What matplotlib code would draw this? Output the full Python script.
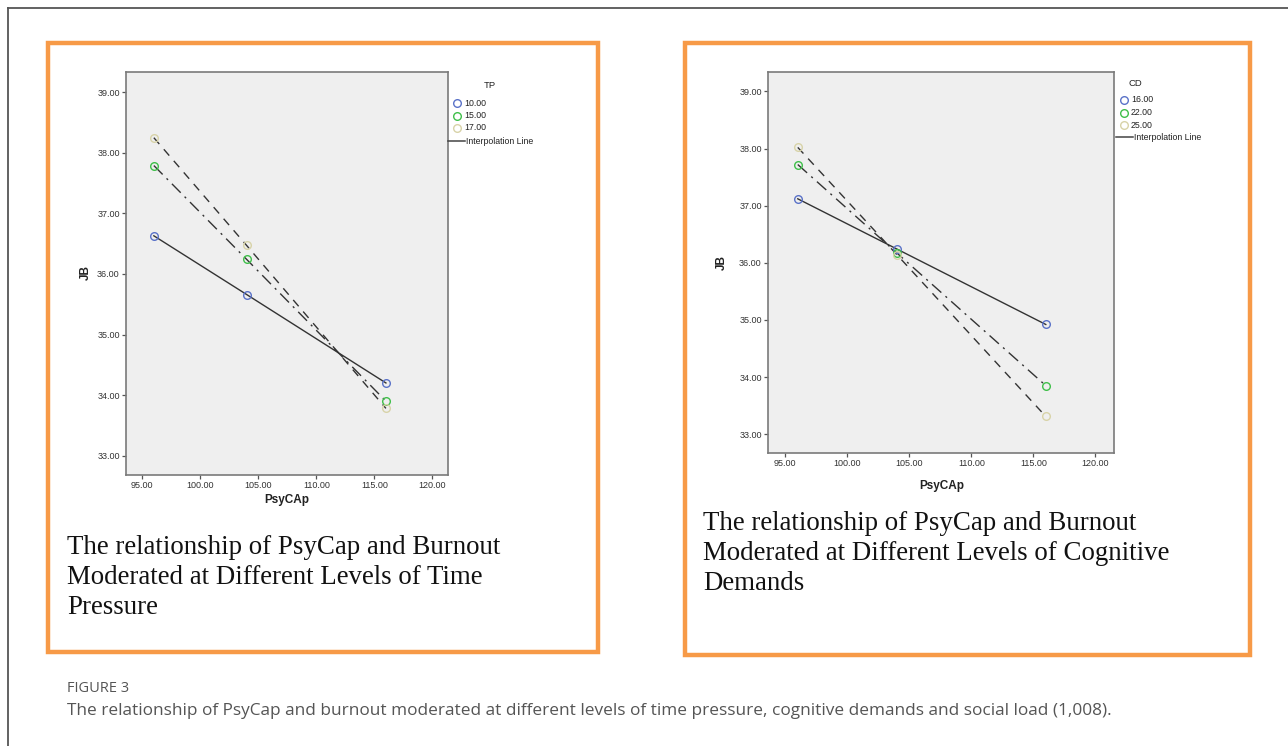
import matplotlib
matplotlib.use("Agg")
import matplotlib.pyplot as plt
from matplotlib.patches import Rectangle
from matplotlib.lines import Line2D

W, H = 1288, 746

# ---------------- data ----------------
psycap = [96, 104, 116]

tp_levels = ["10.00", "15.00", "17.00"]
tp_10 = [36.63, 35.66, 34.20]
tp_15 = [37.79, 36.24, 33.90]
tp_17 = [38.25, 36.47, 33.78]

cd_levels = ["16.00", "22.00", "25.00"]
cd_16 = [37.12, 36.24, 34.92]
cd_22 = [37.72, 36.17, 33.85]
cd_25 = [38.02, 36.14, 33.31]

x_ticks = [95, 100, 105, 110, 115, 120]
y_ticks = [33, 34, 35, 36, 37, 38, 39]

marker_colors = ["#5a72c8", "#3fbf4a", "#d8d3a8"]
line_styles = ["-", (0, (9, 4, 1.5, 4)), (0, (6, 5))]

fig = plt.figure(figsize=(W / 100, H / 100), dpi=100)
fig.patch.set_facecolor("white")


def px_rect(x0, y0, x1, y1):
    return [x0 / W, 1 - y1 / H, (x1 - x0) / W, (y1 - y0) / H]


def fx(x):
    return x / W


def fy(y):
    return 1 - y / H


# outer card border
fig.add_artist(Line2D([fx(7.5), fx(7.5)], [fy(7.5), fy(746)], color="#555555", lw=1.3))
fig.add_artist(Line2D([fx(7.5), fx(1288)], [fy(7.5), fy(7.5)], color="#555555", lw=1.3))

# orange frames
for (x0, y0, x1, y1) in [(48, 43, 598, 652), (685, 43, 1250, 655)]:
    fig.add_artist(Rectangle((fx(x0), fy(y1)), fx(x1) - fx(x0), fy(y0) - fy(y1),
                             transform=fig.transFigure, fill=False,
                             edgecolor="#f79a47", lw=3.2))


def make_panel(rect, xlim, ylim, series, xlabel_pos, ylabel_pos):
    ax = fig.add_axes(rect)
    ax.set_facecolor("#efefef")
    for s in ax.spines.values():
        s.set_color("#7a7a7a")
        s.set_linewidth(1.2)
    for vals, ls, mc in zip(series, line_styles, marker_colors):
        ax.plot(psycap, vals, color="#333333", lw=1.0, linestyle=ls, zorder=2)
        ax.plot(psycap, vals, linestyle="none", marker="o", markersize=5.5,
                markerfacecolor="none", markeredgecolor=mc, markeredgewidth=1.0, zorder=3)
    ax.set_xlim(*xlim)
    ax.set_ylim(*ylim)
    ax.set_xticks(x_ticks)
    ax.set_yticks(y_ticks)
    ax.set_xticklabels([f"{v:.2f}" for v in x_ticks])
    ax.set_yticklabels([f"{v:.2f}" for v in y_ticks])
    ax.tick_params(axis="both", labelsize=6.5, labelcolor="#333333", color="#555555",
                   length=3, width=0.9, pad=1.5, direction="out")
    for lab in ax.get_xticklabels() + ax.get_yticklabels():
        lab.set_family("Liberation Sans")
    fig.text(fx(xlabel_pos[0]), fy(xlabel_pos[1]), "PsyCAp", fontsize=8.5, fontweight="bold",
             family="Liberation Sans", ha="center", va="center", color="#222222")
    fig.text(fx(ylabel_pos[0]), fy(ylabel_pos[1]), "JB", fontsize=8.5, fontweight="bold",
             family="Liberation Sans", ha="center", va="center", rotation=90, color="#222222")
    return ax


make_panel(px_rect(126, 72, 448, 475), (93.6, 121.35), (32.68, 39.335),
           [tp_10, tp_15, tp_17], (287, 500), (86, 273))
make_panel(px_rect(768, 72, 1114, 453), (93.6, 121.5), (32.67, 39.34),
           [cd_16, cd_22, cd_25], (942, 486), (722, 262))


def legend(title, levels, tx, ty, cx, ys, line_y, line_x0, line_x1):
    fig.text(fx(tx), fy(ty), title, fontsize=6.8, family="Liberation Sans",
             ha="center", va="center", color="#222222")
    for lev, y, mc in zip(levels, ys, marker_colors):
        fig.add_artist(Line2D([fx(cx)], [fy(y)], marker="o", markersize=5.5,
                              markerfacecolor="none", markeredgecolor=mc,
                              markeredgewidth=1.0, linestyle="none"))
        fig.text(fx(cx + 7), fy(y), lev, fontsize=6.3, family="Liberation Sans",
                 ha="left", va="center", color="#222222")
    fig.add_artist(Line2D([fx(line_x0), fx(line_x1)], [fy(line_y), fy(line_y)],
                          color="#444444", lw=1.1))
    fig.text(fx(line_x1 + 1), fy(line_y), "Interpolation Line", fontsize=6.3,
             family="Liberation Sans", ha="left", va="center", color="#222222")


legend("TP", tp_levels, 490, 85, 457, [103, 115.5, 128], 141, 448, 465)
legend("CD", cd_levels, 1135, 84, 1124, [100, 112.5, 125], 137, 1116, 1133)

serif = ["Liberation Serif", "DejaVu Serif"]
left_lines = ["The relationship of PsyCap and Burnout",
              "Moderated at Different Levels of Time",
              "Pressure"]
for i, t in enumerate(left_lines):
    fig.text(fx(67), fy(547 + 30.5 * i), t, fontsize=19.4, family=serif,
             ha="left", va="center", color="#111111")
right_lines = ["The relationship of PsyCap and Burnout",
               "Moderated at Different Levels of Cognitive",
               "Demands"]
for i, t in enumerate(right_lines):
    fig.text(fx(703), fy(523 + 30.5 * i), t, fontsize=19.4, family=serif,
             ha="left", va="center", color="#111111")

fig.text(fx(67), fy(689), "FIGURE 3", fontsize=10.5, family="Open Sans",
         ha="left", va="center", color="#555555")
fig.text(fx(67), fy(711),
         "The relationship of PsyCap and burnout moderated at different levels of time pressure, "
         "cognitive demands and social load (1,008).",
         fontsize=12.4, family="Open Sans", ha="left", va="center", color="#555555")

fig.savefig("out.png", dpi=100, facecolor="white")
